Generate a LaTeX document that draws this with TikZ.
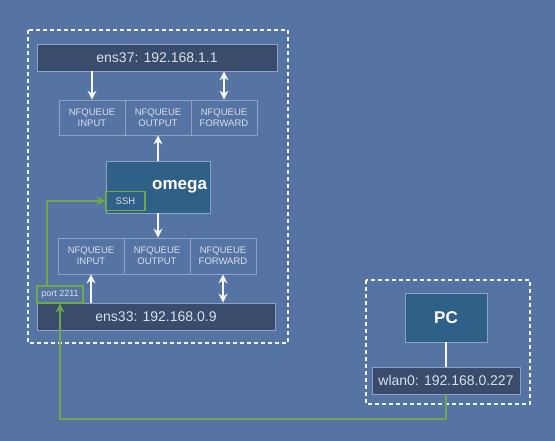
\documentclass[tikz,border=0pt]{standalone}
\usepackage{fontspec}
\setmainfont{Liberation Sans}
\usetikzlibrary{arrows.meta}
\definecolor{xbg}{RGB}{85,115,163}
\definecolor{xbar}{RGB}{58,76,107}
\definecolor{xhost}{RGB}{47,96,135}
\definecolor{xline}{RGB}{140,162,198}
\definecolor{xtext}{RGB}{218,224,234}
\definecolor{xgreen}{RGB}{110,168,72}

\begin{document}
\begin{tikzpicture}[->,>={Stealth[length=9pt,width=9pt]},x=1pt,y=-1pt,line width=1.7pt]
\tikzset{iface/.style={rectangle,fill=xbar,draw=xline,line width=0.8pt,minimum height=27,text=xtext,inner sep=0pt,font=\fontsize{14}{16}\selectfont}}
\tikzset{queue/.style={rectangle,draw=xline,line width=0.8pt,minimum width=66,minimum height=35,text=xtext,inner sep=0pt,align=center,font=\fontsize{9.5}{11}\selectfont}}
\tikzset{host/.style={rectangle,fill=xhost,draw=xline,line width=0.8pt,text=white,inner sep=0pt,font=\fontsize{17}{19}\selectfont\bfseries}}
\tikzset{tag/.style={rectangle,draw=xgreen,line width=1.3pt,text=xtext,inner sep=0pt,font=\fontsize{9.5}{11}\selectfont}}
\tikzset{dashbox/.style={draw=white!92!xbg,dashed,dash pattern=on 4pt off 3pt,line width=1.3pt,-}}
\tikzset{arr/.style={draw=white!95!xbg}}
\tikzset{link/.style={draw=xgreen,line width=2pt}}
\fill[xbg] (0,0) rectangle (555,441);
\useasboundingbox (0,0) rectangle (555,441);
\draw[dashbox] (28,30) rectangle (288,343);
\draw[dashbox] (366,280) rectangle (530,404);
% router
\node[iface,minimum width=240] at (157,57.5) (ens37) {ens37: 192.168.1.1};
\node[queue] at (92,117.5) (in1) {NFQUEUE\\INPUT};
\node[queue] at (158,117.5) (out1) {NFQUEUE\\OUTPUT};
\node[queue] at (224,117.5) (fwd1) {NFQUEUE\\FORWARD};
\node[host,minimum width=104,minimum height=52,text width=98,align=right] at (158,187) (omega) {omega};
\node[tag,minimum width=39,minimum height=19] at (125.5,201) (ssh) {SSH};
\node[queue,minimum height=36] at (91,256) (in2) {NFQUEUE\\INPUT};
\node[queue,minimum height=36] at (157,256) (out2) {NFQUEUE\\OUTPUT};
\node[queue,minimum height=36] at (223,256) (fwd2) {NFQUEUE\\FORWARD};
\node[iface,minimum width=238] at (156,316.5) (ens33) {ens33: 192.168.0.9};
\node[tag,minimum width=46,minimum height=17,font=\fontsize{9}{10}\selectfont] at (60,294.5) (port) {port 2211};
\draw[arr] (ens37.south -| in1) -- (in1.north);
\draw[arr,<->] (ens37.south -| fwd1) -- (fwd1.north);
\draw[arr] (omega.north) -- (out1.south);
\draw[arr] (omega.south) -- (omega.south |- out2.north);
\draw[arr] (ens33.north -| in2) -- (in2.south);
\draw[arr,<->] (ens33.north -| fwd2) -- (fwd2.south);
% pc
\node[host,minimum width=82,minimum height=49] at (446,317.5) (pc) {PC};
\node[iface,minimum width=148] at (446,380.5) (wlan0) {wlan0: 192.168.0.227};
\draw[arr,-,line width=1.3pt] (pc) -- (wlan0);
% ssh path
\draw[link] ([xshift=-13]port.north) |- (ssh.west);
\draw[link] (wlan0.south) -- ++(0,25) -| (port.south);
\end{tikzpicture}
\end{document}
